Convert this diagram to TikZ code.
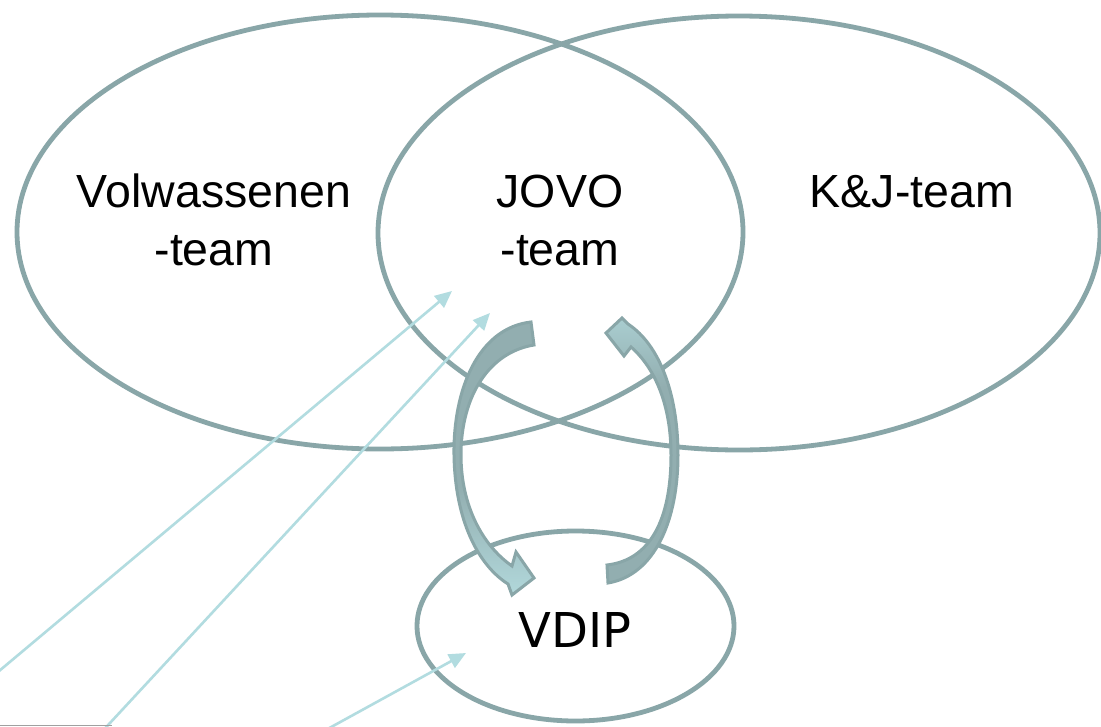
\documentclass[tikz,border=0pt]{standalone}
\usepackage{fontspec}
\setmainfont{Liberation Sans}
\newfontfamily\vdipfont{DejaVu Sans}
\usetikzlibrary{arrows.meta,shapes.geometric}
\definecolor{ring}{RGB}{137,166,168}
\definecolor{thinc}{RGB}{178,220,224}
\definecolor{adark}{RGB}{146,174,176}
\definecolor{alight}{RGB}{182,222,225}
\definecolor{framec}{RGB}{160,160,160}
\pgfdeclareverticalshading{leftarrowshade}{100bp}{color(0bp)=(alight); color(22bp)=(alight); color(45bp)=(adark); color(100bp)=(adark)}
\pgfdeclareverticalshading{rightarrowshade}{100bp}{color(0bp)=(adark); color(62bp)=(adark); color(82bp)=(alight); color(100bp)=(alight)}
\begin{document}
\begin{tikzpicture}[x=1pt,y=-1pt,
  ringbox/.style={draw=ring,line width=4.8pt,ellipse,inner sep=0pt,outer sep=0pt},
  label/.style={font=\fontsize{46.5}{58}\selectfont,inner sep=0pt,align=center,text=black},
  thinarrow/.style={draw=thinc,line width=2.6pt,-{Triangle[length=17pt,width=15pt]}},
  bentarrow/.style={draw=ring,line width=3pt}]
\useasboundingbox (0,0) rectangle (1101,726);
\clip (0,0) rectangle (1101,726);
\fill[white] (0,0) rectangle (1101,726);

% ellipses
\node[ringbox,minimum width=726pt,minimum height=434pt] (adult) at (380,232) {};
\node[ringbox,minimum width=722pt,minimum height=434pt] (kj) at (739,233) {};
\node[ringbox,minimum width=317pt,minimum height=190pt] (vdip) at (575.5,626) {};

% labels
\node[label] (ltxt) at (214,220) {Volwassenen\\-team};
\node[label] (jtxt) at (560,220) {JOVO\\-team};
\node[label,anchor=base] (ktxt) at (912,207) {K\&J-team};
\node[font=\vdipfont\fontsize{48}{58}\selectfont,inner sep=0pt,anchor=base] (vtxt) at (575,647) {VDIP};

% thin arrows
\coordinate (s1) at (-20,687);
\coordinate (t1) at (452,291);
\coordinate (s2) at (97,737);
\coordinate (t2) at (490,313);
\coordinate (s3) at (313,737);
\coordinate (t3) at (466,653);
\draw[thinarrow] (s1) -- (t1);
\draw[thinarrow] (s2) -- (t2);
\draw[thinarrow] (s3) -- (t3);

% bottom-left edge line
\coordinate (f1) at (0,725.4);
\coordinate (f2) at (112,725.4);
\draw[framec,line width=1.2pt] (f1) -- (f2);

% curved block arrow: JOVO -> VDIP
\path[bentarrow,shading=leftarrowshade]
  (531,322) .. controls (478,328) and (453,390) .. (454,455)
  .. controls (455,520) and (478,565) .. (508,584)
  -- (512,595) -- (534,578) -- (516,552) -- (512,566)
  .. controls (482,545) and (461,505) .. (461,455)
  .. controls (461,395) and (490,352) .. (534,345) -- cycle;

% curved block arrow: VDIP -> JOVO
\path[bentarrow,shading=rightarrowshade]
  (608,583) .. controls (655,575) and (678,520) .. (678,455)
  .. controls (678,395) and (660,345) .. (628,324)
  -- (622,318) -- (606,333) -- (624,356) -- (631,347)
  .. controls (655,368) and (671,405) .. (671,455)
  .. controls (671,520) and (650,560) .. (607,565) -- cycle;
\end{tikzpicture}
\end{document}
